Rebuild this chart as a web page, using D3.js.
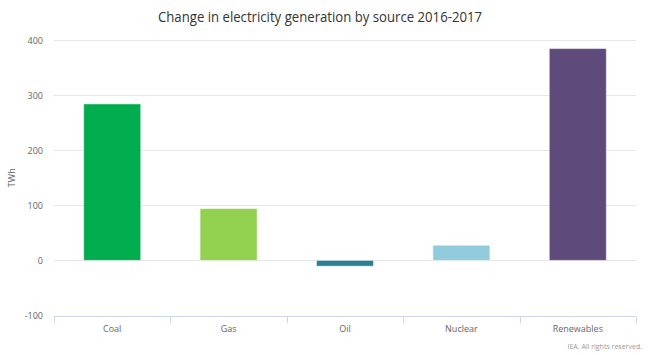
<!DOCTYPE html>
<html><head><meta charset="utf-8">
<script src="https://cdn.jsdelivr.net/npm/d3@7"></script>
<style>body{margin:0;background:#fff;font-family:"Open Sans",sans-serif;}</style>
</head><body><svg id="c" width="648" height="355"></svg>
<script>
const categories = ["Coal","Gas","Oil","Nuclear","Renewables"];
const values = [284, 94, -10.5, 27.5, 384.5];
const colors = ["#00ad4e","#92d050","#2a7f92","#91cbdc","#5f4a7c"];
const yTicks = [-100,0,100,200,300,400];

const svg = d3.select("#c");
const W=648,H=355;
svg.append("rect").attr("width",W).attr("height",H).attr("fill","#fff");
const x0=54,x1=636,yTop=40,yBot=315.5;
const x = d3.scaleBand().domain(categories).range([x0,x1]).padding(0);
const y = d3.scaleLinear().domain([-100,400]).range([yBot,yTop]);

svg.append("text").attr("x",320).attr("y",22).attr("text-anchor","middle")
  .attr("fill","#333").attr("font-size",14).attr("textLength",324).attr("lengthAdjust","spacingAndGlyphs")
  .text("Change in electricity generation by source 2016-2017");

const g = svg.append("g");
g.selectAll("line.grid").data(yTicks.filter(d=>d>-100)).join("line")
  .attr("x1",x0).attr("x2",x1).attr("y1",d=>Math.round(y(d))+0.5).attr("y2",d=>Math.round(y(d))+0.5)
  .attr("stroke","#e6e6e6");
g.selectAll("text.yl").data(yTicks).join("text")
  .attr("x",43).attr("y",d=>y(d)+3.5).attr("text-anchor","end")
  .attr("fill","#666").attr("font-size",9).text(d=>d);
svg.append("text").attr("transform",`translate(15,${(yTop+yBot)/2}) rotate(-90)`)
  .attr("text-anchor","middle").attr("fill","#666").attr("font-size",9).text("TWh");

const bw = x.bandwidth();
g.selectAll("rect.bar").data(categories).join("rect")
  .attr("x",(d)=>x(d)+bw*0.255).attr("width",bw*0.49)
  .attr("y",(d,i)=>y(Math.max(0,values[i]))).attr("height",(d,i)=>Math.abs(y(values[i])-y(0)))
  .attr("fill",(d,i)=>colors[i]).attr("stroke","rgba(255,255,255,0.5)").attr("stroke-width",1);

// x axis
const ax = svg.append("g").attr("transform",`translate(0,${Math.round(yBot)+0.5})`)
  .call(d3.axisBottom(x).tickSize(0).tickPadding(9));
ax.select(".domain").attr("stroke","#ccd6eb").attr("d",`M${x0},0H${x1}`);
ax.selectAll("text").attr("fill","#666").attr("font-size",9).attr("font-family","Open Sans");
const bounds = categories.map(c=>x(c)).concat([x1]);
ax.selectAll("line.tk").data(bounds).join("line").attr("class","tk")
  .attr("x1",d=>Math.round(d)+0.5).attr("x2",d=>Math.round(d)+0.5).attr("y1",0).attr("y2",7).attr("stroke","#ccd6eb");

svg.append("text").attr("x",642).attr("y",349).attr("text-anchor","end")
  .attr("fill","#999").attr("font-size",7).text("IEA. All rights reserved.");
</script></body></html>
